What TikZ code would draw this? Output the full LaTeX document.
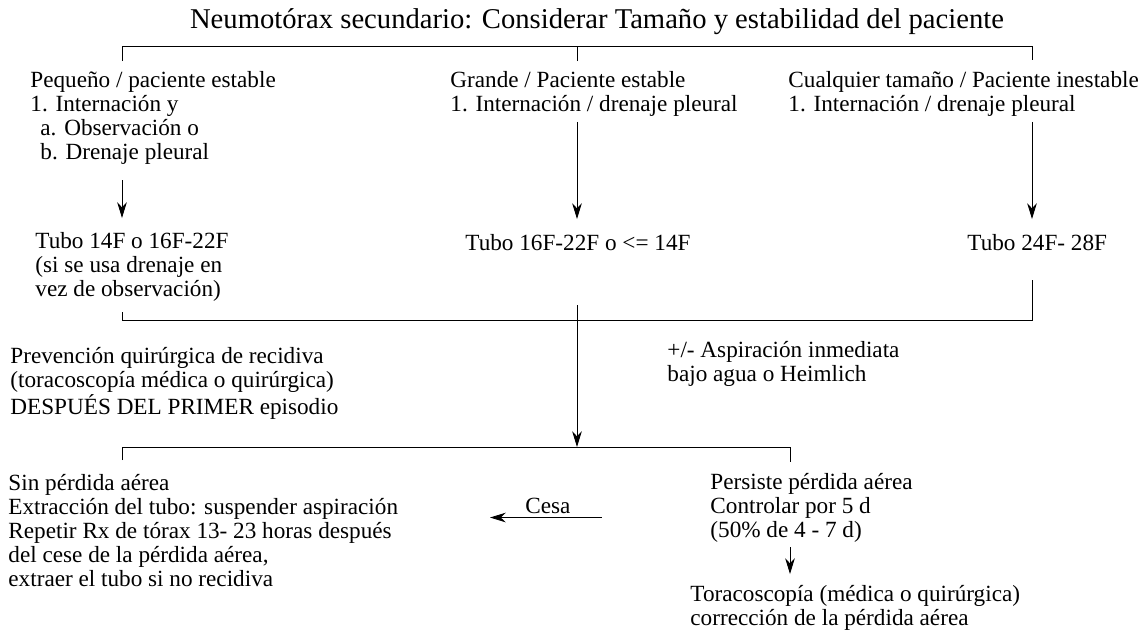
\documentclass[tikz,border=0pt]{standalone}
\usepackage{fontspec}
\setmainfont{Liberation Serif}
\usepackage{tikz}
\usetikzlibrary{positioning}
\usetikzlibrary{arrows.meta}
\newcommand{\txtfont}{\fontsize{13.2}{13.7}\selectfont}
\newcommand{\ttlfont}{\fontsize{16.3}{18}\selectfont}

\begin{document}
\begin{tikzpicture}[x=0.02cm,y=-0.02cm,line width=0.5pt,
	every node/.style={inner sep=0pt,font=\txtfont},
	txt/.style={align=left,anchor=north west},
	arr/.style={-{Stealth[length=9pt,width=5.5pt]}}]
	\useasboundingbox (0,0) rectangle (1143,630);

	% title and first split
	\node (title) [font=\ttlfont] at (597,22) {Neumotórax secundario: Considerar Tamaño y estabilidad del paciente};
	\coordinate (k1) at (122,61);
	\coordinate (k2) at (577,61);
	\coordinate (k3) at (1032,60);
	\draw (k1) -- (122,46) -- (1032,46) -- (k3);
	\draw (k2) -- (577,46);

	% three branches
	\node (pequeno) [txt] at (30,71) {Pequeño / paciente estable\\1. Internación y\\\hspace*{0.2cm}a. Observación o\\\hspace*{0.2cm}b. Drenaje pleural};
	\node (grande) [txt] at (450,71) {Grande / Paciente estable\\1. Internación / drenaje pleural};
	\node (cualq) [txt] at (788,71) {Cualquier tamaño / Paciente inestable\\1. Internación / drenaje pleural};

	\node (tubo1) [txt] at (35,232) {Tubo 14F o 16F-22F\\(si se usa drenaje en\\vez de observación)};
	\node (tubo2) [txt] at (465,234) {Tubo 16F-22F o <= 14F};
	\node (tubo3) [txt] at (967,234) {Tubo 24F- 28F};

	\draw[arr, shorten >=0.28cm] (122,180) -- (tubo1.north -| k1);
	\draw[arr, shorten >=0.3cm, shorten <=0.1cm] (grande.south -| k2) -- (tubo2.north -| k2);
	\draw[arr, shorten >=0.3cm, shorten <=0.1cm] (cualq.south -| k3) -- (tubo3.north -| k3);

	% merge
	\coordinate (j1) at (122,312);
	\coordinate (j3) at (1032,280);
	\coordinate (j2) at (577,305);
	\draw (j1) -- (122,320) -- (1032,320) -- (j3);

	\node (aspir) [txt] at (667,341) {+/- Aspiración inmediata\\bajo agua o Heimlich};
	\node (prev) [txt] at (10,347) {Prevención quirúrgica de recidiva\\(toracoscopía médica o quirúrgica)\\DESPUÉS DEL PRIMER episodio};

	% second split
	\coordinate (s1) at (122,460);
	\coordinate (s2) at (577,447);
	\coordinate (s3) at (790,462);
	\draw[arr] (j2) -- (s2);
	\draw (s1) -- (122,447) -- (790,447) -- (s3);

	\node (sin) [txt] at (8,474) {Sin pérdida aérea\\Extracción del tubo: suspender aspiración\\Repetir Rx de tórax 13- 23 horas después\\del cese de la pérdida aérea,\\extraer el tubo si no recidiva};
	\node (persiste) [txt] at (710,473) {Persiste pérdida aérea\\Controlar por 5 d\\(50\% de 4 - 7 d)};
	\node (torac) [txt] at (690,585) {Toracoscopía (médica o quirúrgica)\\corrección de la pérdida aérea};
	\node (cesa) [anchor=south west] at (525,514) {Cesa};

	\draw[arr] ([xshift=0.62cm,yshift=-2pt]cesa.south east) -- ([xshift=-0.7cm,yshift=-2pt]cesa.south west);
	\draw[arr, shorten >=0.22cm, shorten <=0.08cm] (persiste.south -| s3) -- (torac.north -| s3);
\end{tikzpicture}
\end{document}
